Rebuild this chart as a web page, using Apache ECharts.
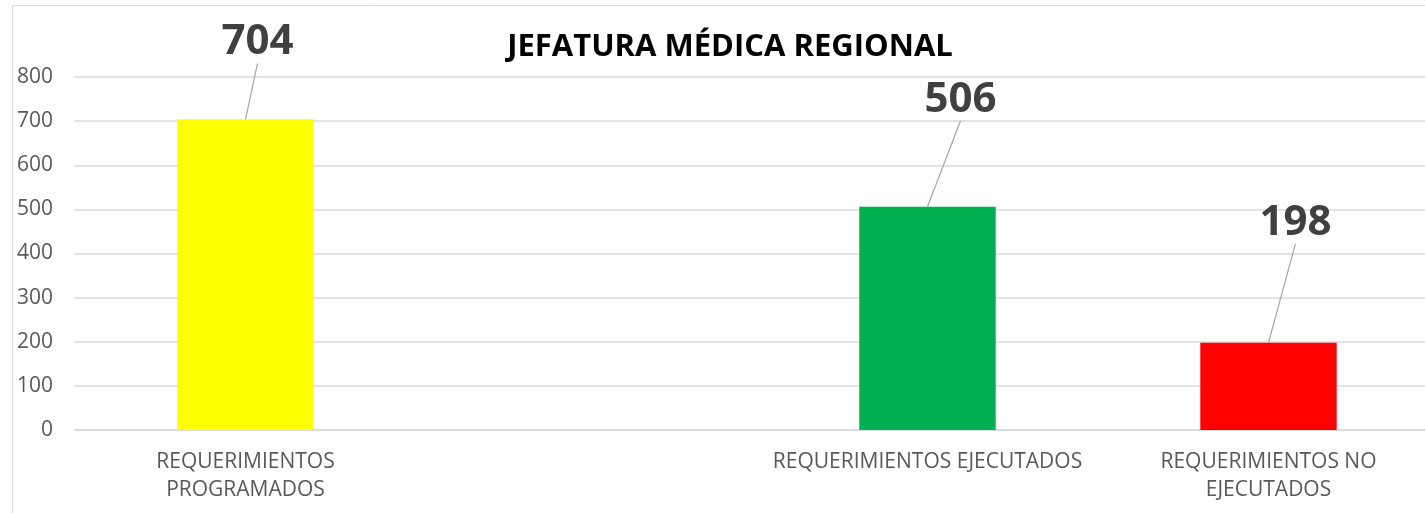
<!DOCTYPE html>
<html>
<head>
<meta charset="utf-8">
<script src="https://cdn.jsdelivr.net/npm/echarts@6/dist/echarts.min.js"></script>
<style>
html,body{margin:0;padding:0;background:#fff;overflow:hidden;width:1425px;height:513px;}
#chart{width:1439px;height:513px;}
</style>
</head>
<body>
<div id="chart"></div>
<script>
const titleText = 'JEFATURA MÉDICA REGIONAL';
const categories = ['REQUERIMIENTOS\nPROGRAMADOS', '', 'REQUERIMIENTOS EJECUTADOS', 'REQUERIMIENTOS NO\nEJECUTADOS'];
const values = [704, null, 506, 198];
const barColors = ['#FFFF00', '#FFFFFF', '#00B050', '#FF0000'];
const yTicks = [0, 100, 200, 300, 400, 500, 600, 700, 800];

// label offsets (style only)
const labelShift = [[12, -77], [0, 0], [33, -107], [27, -120]];

const chart = echarts.init(document.getElementById('chart'), null, {renderer: 'canvas'});
chart.setOption({
  animation: false,
  backgroundColor: '#ffffff',
  title: {
    text: titleText,
    left: 725,
    textAlign: 'center',
    top: 27,
    textStyle: {fontFamily: 'Open Sans', fontWeight: 'bold', fontSize: 31, color: '#000000'}
  },
  graphic: [{
    type: 'rect',
    shape: {x: 12.5, y: 5.5, width: 1500, height: 600},
    style: {fill: 'none', stroke: '#d9d9d9', lineWidth: 1},
    silent: true, z: -1
  }],
  grid: {left: 75, right: 0, top: 77, bottom: 83, containLabel: false},
  xAxis: {
    type: 'category',
    data: categories,
    axisTick: {show: false},
    axisLine: {show: true, lineStyle: {color: '#d9d9d9', width: 1.5}},
    axisLabel: {
      interval: 0, margin: 18, color: '#595959',
      fontFamily: 'Open Sans', fontSize: 21, lineHeight: 28
    }
  },
  yAxis: {
    type: 'value',
    min: yTicks[0], max: yTicks[yTicks.length - 1], interval: 100,
    axisLine: {show: false},
    axisTick: {show: false},
    splitLine: {lineStyle: {color: '#d9d9d9', width: 1.5}},
    axisLabel: {margin: 22, color: '#595959', fontFamily: 'Open Sans', fontSize: 21}
  },
  series: [{
    type: 'bar',
    barWidth: '40%',
    data: values.map((v, i) => ({value: v, itemStyle: {color: barColors[i]}})),
    label: {show: false}
  }, {
    type: 'scatter',
    symbolSize: 0.01,
    itemStyle: {color: 'rgba(0,0,0,0)', opacity: 1},
    data: values,
    z: 5,
    label: {
      show: true,
      position: 'inside',
      color: '#404040',
      textBorderWidth: 0,
      textBorderColor: 'transparent',
      fontFamily: 'Open Sans',
      fontWeight: 'bold',
      fontSize: 42
    },
    labelLine: {show: true, lineStyle: {color: '#a6a6a6', width: 1.2, opacity: 1}},
    labelLayout: function (params) {
      const s = labelShift[params.dataIndex] || [0, 0];
      return {dx: s[0], dy: s[1]};
    }
  }]
});
</script>
</body>
</html>
